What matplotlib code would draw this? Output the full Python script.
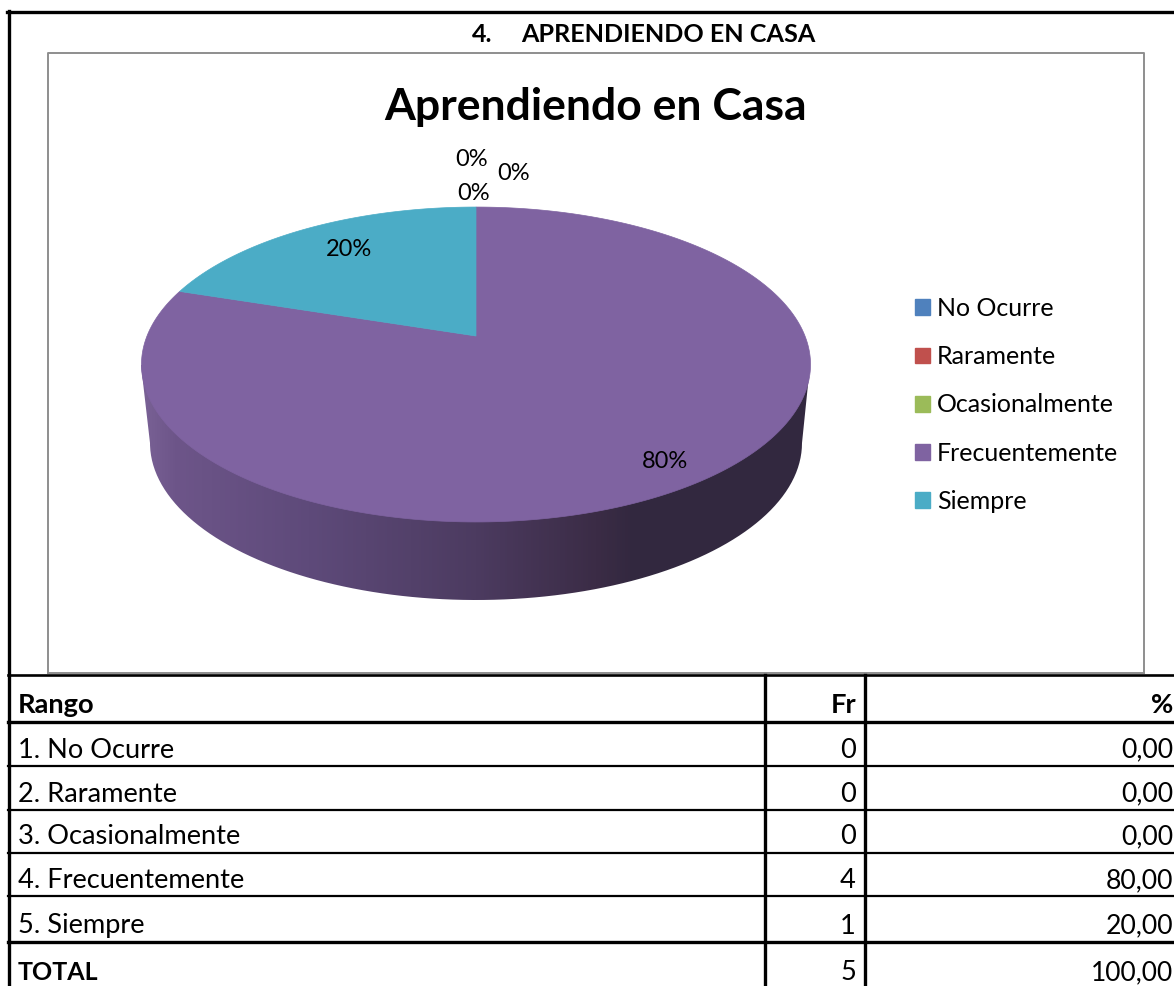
import numpy as np
import matplotlib
matplotlib.use("Agg")
import matplotlib.pyplot as plt
from matplotlib.colors import LinearSegmentedColormap
from matplotlib.patches import Patch, PathPatch
from matplotlib.path import Path

categories = ["No Ocurre", "Raramente", "Ocasionalmente", "Frecuentemente", "Siempre"]
fr = [0, 0, 0, 4, 1]
pct = ["0,00", "0,00", "0,00", "80,00", "20,00"]
total_fr = 5
total_pct = "100,00"
pie_labels = ["0%", "0%", "0%", "80%", "20%"]
colors = ["#4F81BD", "#C0504D", "#9BBB59", "#7F63A1", "#4BACC6"]

plt.rcParams['font.family'] = ['Lato', 'DejaVu Sans']

fig = plt.figure(figsize=(11.74, 9.86), dpi=100)
ax = fig.add_axes([0, 0, 1, 1])


def project(x, y):
    # tilted circle -> screen pixels
    d = 0.181 * y + 1
    return 476 + 329 * x / d, 336 - 152.3 * y / d


def to_axes():
    ax.set_aspect('auto')
    ax.set_xlim(0, 1174)
    ax.set_ylim(986, 0)
    ax.axis('off')


wedges, _ = ax.pie(fr, startangle=90, counterclock=False)
thetas = [(w.theta1, w.theta2) for w in wedges]
for w in wedges:
    w.set_visible(False)
to_axes()

# side wall
t = np.linspace(0, np.pi, 200)
xb = 476 + 326 * np.cos(t)
yb = 443 + 157 * np.sin(t)
wall = np.vstack([[[810, 365]], np.column_stack([xb, yb]), [[141, 365]], [[810, 365]]])
wall_cmap = LinearSegmentedColormap.from_list("wall", [
    (0.0, "#7A6196"), (0.05, "#6D5589"), (0.25, "#5E4A7A"), (0.5, "#4C3B60"),
    (0.68, "#3B2C46"), (0.74, "#32283F"), (1.0, "#32283F")])
grad = ax.imshow(np.linspace(0, 1, 670)[None, :], extent=(141, 811, 610, 360),
                 cmap=wall_cmap, aspect='auto', zorder=2)
clip = PathPatch(Path(wall), transform=ax.transData, fc='none', ec='none')
ax.add_patch(clip)
grad.set_clip_path(clip)
to_axes()

# pie top
for (t1, t2), c in zip(thetas, colors):
    if t2 - t1 < 0.01:
        continue
    a = np.radians(np.linspace(t1, t2, 300))
    px, py = project(np.cos(a), np.sin(a))
    ax.fill(np.r_[px, 476], np.r_[py, 336], color=c, lw=0.5, zorder=3)
to_axes()

# data labels
label_xy = [(472, 160), (514, 174), (474, 194), (665, 462), (349, 250)]
for s, (x, y) in zip(pie_labels, label_xy):
    ax.text(x, y, s, ha='center', va='center', fontsize=17, color='black', zorder=5)

# chart frame
ax.plot([48, 48, 1144, 1144], [673, 53, 53, 673], color='#8E8E8E', lw=1.4, zorder=1)
ax.plot([48, 1144], [673, 673], color='#8E8E8E', lw=1.4, zorder=1)

# titles
ax.text(472, 34, "4.", ha='left', va='center', fontsize=18, fontweight='bold')
ax.text(668, 34, "APRENDIENDO EN CASA", ha='center', va='center', fontsize=18.1, fontweight='bold')
ax.text(596, 107, "Aprendiendo en Casa", ha='center', va='center', fontsize=32, fontweight='bold')

# legend
handles = [Patch(color=c, label=n) for n, c in zip(categories, colors)]
ax.legend(handles=handles, loc='upper left', bbox_to_anchor=(915 / 1174, 1 - 297 / 986),
          frameon=False, fontsize=18, handlelength=0.6, handleheight=0.6,
          handletextpad=0.28, labelspacing=1.01, borderpad=0, borderaxespad=0)

# table lines
ax.plot([8.5, 8.5], [11, 986], color='black', lw=2.4, zorder=6)
ax.plot([7, 1174], [11.5, 11.5], color='black', lw=2.4, zorder=6)
for y, lw in [(675, 1.9), (722, 2.4), (766, 1.6), (810, 1.6), (853, 1.6), (896, 1.6), (942, 2.4)]:
    ax.plot([8, 1174], [y, y], color='black', lw=lw, zorder=6)
for x in [765, 865]:
    ax.plot([x, x], [675, 986], color='black', lw=2.4, zorder=6)

# table text
rows_y = [750, 794, 837, 881, 926]
ax.text(18, 705, "Rango", ha='left', va='center', fontsize=19.6, fontweight='bold')
ax.text(856, 705, "Fr", ha='right', va='center', fontsize=19.6, fontweight='bold')
ax.text(1173, 705, "%", ha='right', va='center', fontsize=19.6, fontweight='bold')
for i, n in enumerate(categories):
    ax.text(18, rows_y[i], "%d. %s" % (i + 1, n), ha='left', va='center', fontsize=19.6)
    ax.text(856, rows_y[i], str(fr[i]), ha='right', va='center', fontsize=19.6)
    ax.text(1173, rows_y[i], pct[i], ha='right', va='center', fontsize=19.2)
ax.text(18, 973, "TOTAL", ha='left', va='center', fontsize=18, fontweight='bold')
ax.text(856, 973, str(total_fr), ha='right', va='center', fontsize=19.6)
ax.text(1173, 973, total_pct, ha='right', va='center', fontsize=19)

fig.savefig("out.png", dpi=100)
